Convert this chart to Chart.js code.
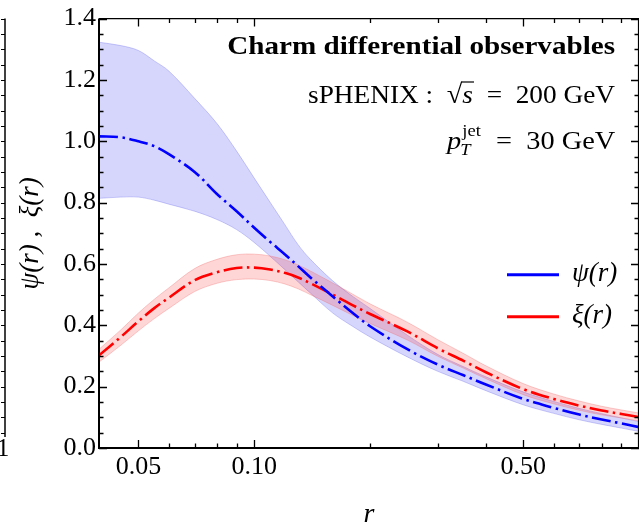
<!DOCTYPE html>
<html><head><meta charset="utf-8">
<script src="https://cdn.jsdelivr.net/npm/chart.js@4/dist/chart.umd.min.js"></script>
<style>html,body{margin:0;padding:0;background:#fff;}canvas{display:block;}</style>
</head><body>
<canvas id="c" width="639" height="525"></canvas>
<script>
// ---- data ----
const rValues    = [0.0395,0.045,0.05,0.055,0.06,0.07,0.08,0.09,0.10,0.11,0.12,0.13,0.14,0.16,0.18,0.20,0.25,0.30,0.35,0.40,0.50,0.60,0.70,0.80,0.90,1.00];
const psiCentral = [1.016,1.013,1.000,0.984,0.958,0.900,0.828,0.772,0.718,0.672,0.632,0.593,0.556,0.494,0.441,0.397,0.322,0.272,0.237,0.207,0.160,0.131,0.109,0.093,0.080,0.068];
const psiUpper   = [1.323,1.312,1.296,1.262,1.229,1.140,1.058,0.968,0.880,0.801,0.729,0.663,0.615,0.545,0.495,0.455,0.368,0.305,0.265,0.232,0.183,0.152,0.129,0.112,0.098,0.086];
const psiLower   = [0.814,0.818,0.818,0.808,0.795,0.772,0.745,0.712,0.670,0.625,0.582,0.542,0.505,0.440,0.397,0.362,0.297,0.250,0.217,0.187,0.141,0.113,0.092,0.077,0.065,0.054];
const xiCentral  = [0.302,0.362,0.413,0.456,0.490,0.547,0.573,0.587,0.588,0.582,0.571,0.556,0.537,0.500,0.466,0.437,0.380,0.325,0.284,0.247,0.192,0.160,0.138,0.122,0.111,0.101];
const xiUpper    = [0.322,0.385,0.440,0.485,0.522,0.585,0.615,0.630,0.632,0.626,0.614,0.597,0.577,0.538,0.502,0.470,0.410,0.353,0.308,0.268,0.210,0.176,0.153,0.136,0.124,0.114];
const xiLower    = [0.280,0.335,0.382,0.422,0.455,0.510,0.537,0.549,0.551,0.546,0.535,0.519,0.500,0.465,0.433,0.406,0.352,0.299,0.260,0.226,0.174,0.144,0.123,0.108,0.098,0.088];

const yMajorTicks = [0.0,0.2,0.4,0.6,0.8,1.0,1.2,1.4];
const yMinorTicks = [0.05,0.1,0.15,0.25,0.3,0.35,0.45,0.5,0.55,0.65,0.7,0.75,0.85,0.9,0.95,1.05,1.1,1.15,1.25,1.3,1.35];
const xMajorTicks = [0.05,0.10,0.50];
const xMinorTicks = [0.06,0.07,0.08,0.09,0.2,0.3,0.4,0.6,0.7,0.8,0.9];
const xTickLabels = ['0.05','0.10','0.50'];

const seriesLabels = ['\u03C8(r)','\u03BE(r)'];

const pts = arr => rValues.map((r,i)=>({x:r,y:arr[i]}));
const SERIF = "'Liberation Serif','Times New Roman',serif";

const bandCommon = {pointRadius:0, borderWidth:1, tension:0.35, order:3};
const lineCommon = {pointRadius:0, borderWidth:2.6, borderDash:[19,4.5,2.5,4.5], borderCapStyle:'butt', tension:0.35, fill:false};

const datasets = [
  Object.assign({label:'psiUp', data:pts(psiUpper), borderColor:'rgba(110,110,235,0.35)', fill:false}, bandCommon),
  Object.assign({label:'psiLo', data:pts(psiLower), borderColor:'rgba(110,110,235,0.35)', backgroundColor:'rgba(0,0,240,0.16)', fill:{target:0}}, bandCommon),
  Object.assign({label:'xiUp', data:pts(xiUpper), borderColor:'rgba(240,110,110,0.35)', fill:false}, bandCommon, {order:2}),
  Object.assign({label:'xiLo', data:pts(xiLower), borderColor:'rgba(240,110,110,0.35)', backgroundColor:'rgba(255,0,0,0.16)', fill:{target:2}}, bandCommon, {order:2}),
  Object.assign({label:seriesLabels[1], data:pts(xiCentral), borderColor:'#ff0000', order:1}, lineCommon),
  Object.assign({label:seriesLabels[0], data:pts(psiCentral), borderColor:'#0000ff', order:0}, lineCommon)
];

// draw a run of text segments, right-aligned at rightX, horizontally stretched by sx
function drawSegs(ctx, segs, rightX, baseline, sx){
  ctx.letterSpacing='0px';
  const w = segs.map(s=>{ctx.font=s.font; return ctx.measureText(s.text).width;});
  const total = w.reduce((a,b)=>a+b,0);
  ctx.save();
  ctx.translate(rightX - total*sx, baseline);
  ctx.scale(sx,1);
  let x=0; const xs=[];
  segs.forEach((s,i)=>{ctx.font=s.font; ctx.fillText(s.text,x+(s.dx||0),(s.dy||0)); xs.push(x); x+=w[i];});
  return {xs,w,ctx};
}

const decor = {
  id:'decor',
  afterDatasetsDraw(chart){
    const {ctx, chartArea:a, scales:{x,y}} = chart;
    ctx.save();
    ctx.strokeStyle='#000';
    // frame
    ctx.lineWidth=1.2;
    ctx.beginPath();
    ctx.moveTo(a.left,a.top); ctx.lineTo(a.right-0.5,a.top); ctx.lineTo(a.right-0.5,a.bottom);
    ctx.stroke();
    ctx.lineWidth=2;
    ctx.beginPath();
    ctx.moveTo(a.left,a.top); ctx.lineTo(a.left,a.bottom); ctx.lineTo(a.right,a.bottom);
    ctx.stroke();
    // ticks (inward)
    ctx.lineWidth=1.3;
    const tickY=(v,L)=>{const p=Math.round(y.getPixelForValue(v))+0.5; ctx.beginPath(); ctx.moveTo(a.left,p); ctx.lineTo(a.left+L,p); ctx.moveTo(a.right,p); ctx.lineTo(a.right-L,p); ctx.stroke();};
    const tickX=(v,L)=>{const p=Math.round(x.getPixelForValue(v))+0.5; ctx.beginPath(); ctx.moveTo(p,a.bottom); ctx.lineTo(p,a.bottom-L); ctx.moveTo(p,a.top); ctx.lineTo(p,a.top+L); ctx.stroke();};
    yMajorTicks.forEach(v=>tickY(v,8)); yMinorTicks.forEach(v=>tickY(v,4.5));
    xMajorTicks.forEach(v=>tickX(v,8)); xMinorTicks.forEach(v=>tickX(v,4.5));
    // neighbouring panel edge (cut off at left)
    ctx.lineWidth=1.5;
    ctx.beginPath(); ctx.moveTo(5,a.top); ctx.lineTo(5,437); ctx.stroke();
    ctx.lineWidth=1;
    yMinorTicks.concat(yMajorTicks).forEach(v=>{const p=Math.round(y.getPixelForValue(v))+0.5; if(p<437){ctx.beginPath(); ctx.moveTo(5,p); ctx.lineTo(1,p); ctx.stroke();}});
    ctx.fillStyle='#000'; ctx.font="25px "+SERIF; ctx.textAlign='center'; ctx.textBaseline='middle';
    ctx.fillText('1',3,449);

    // legend
    ctx.textAlign='left'; ctx.textBaseline='middle';
    const leg=[datasets[5],datasets[4]];
    leg.forEach((d,i)=>{
      const ly = y.getPixelForValue(0.565) + i*42;
      ctx.strokeStyle=d.borderColor; ctx.lineWidth=3; ctx.setLineDash([]);
      ctx.beginPath(); ctx.moveTo(a.right-132,ly); ctx.lineTo(a.right-80,ly); ctx.stroke();
      ctx.fillStyle='#000'; ctx.font="italic 27px "+SERIF;
      ctx.fillText(d.label, a.right-67, ly-1);
    });

    // annotations
    ctx.textAlign='left'; ctx.textBaseline='alphabetic'; ctx.fillStyle='#000';
    const R = a.right-24;
    let t = drawSegs(ctx,[{text:'Charm differential observables', font:"bold 26px "+SERIF}], R, 54, 1.12);
    t.ctx.restore();
    const B2 = 103;
    t = drawSegs(ctx,[
      {text:'sPHENIX :  ', font:"26px "+SERIF},
      {text:'\u221A', font:"27px "+SERIF},
      {text:'s', font:"italic 26px "+SERIF},
      {text:'\u2002=\u2002200 GeV', font:"26px "+SERIF}], R, B2, 1.05);
    ctx.strokeStyle='#000'; ctx.lineWidth=1.2;
    ctx.beginPath(); ctx.moveTo(t.xs[1]+t.w[1]-1, -21); ctx.lineTo(t.xs[2]+t.w[2]+1, -21); ctx.stroke();
    ctx.restore();
    // p_T^jet = 30 GeV
    const B3 = 149;
    t = drawSegs(ctx,[
      {text:'p', font:"italic 26px "+SERIF},
      {text:'jet', font:"17px "+SERIF, dx:1, dy:-13},
      {text:'\u2002=\u200230 GeV', font:"26px "+SERIF, dx:2}], R-2, B3, 1.09);
    ctx.font="italic 17px "+SERIF; ctx.fillText('T', t.xs[1]-1, 6);
    ctx.restore();
    ctx.restore();
  }
};

new Chart(document.getElementById('c'), {
  type:'line',
  data:{datasets},
  options:{
    responsive:false, animation:false, devicePixelRatio:1,
    layout:{padding:{left:0,right:0,top:18,bottom:0}},
    plugins:{legend:{display:false}, tooltip:{enabled:false}},
    scales:{
      x:{type:'logarithmic', min:0.0395, max:1.0,
        afterBuildTicks:s=>{s.ticks = xMajorTicks.map(v=>({value:v}));},
        afterFit:s=>{s.height=77;},
        ticks:{autoSkip:false, maxRotation:0, padding:4, color:'#000', font:{family:SERIF,size:26},
          callback:(v)=>{const i=xMajorTicks.findIndex(t=>Math.abs(t-v)<1e-9); return i>=0?xTickLabels[i]:'';}},
        grid:{display:false, drawTicks:false}, border:{display:false},
        title:{display:true, text:'r', color:'#000', font:{family:SERIF,size:28,style:'italic'}, padding:{top:0,bottom:-6}}
      },
      y:{min:0, max:1.4,
        afterBuildTicks:s=>{s.ticks = yMajorTicks.map(v=>({value:v}));},
        afterFit:s=>{s.width=99;},
        ticks:{padding:3, color:'#000', font:{family:SERIF,size:26}, callback:v=>Number(v).toFixed(1)},
        grid:{display:false, drawTicks:false}, border:{display:false},
        title:{display:true, text:'\u03C8(r) ,  \u03BE(r)', color:'#000', font:{family:SERIF,size:27,style:'italic'}, padding:{top:15,bottom:0}}
      }
    }
  },
  plugins:[decor]
});
</script>
</body></html>
